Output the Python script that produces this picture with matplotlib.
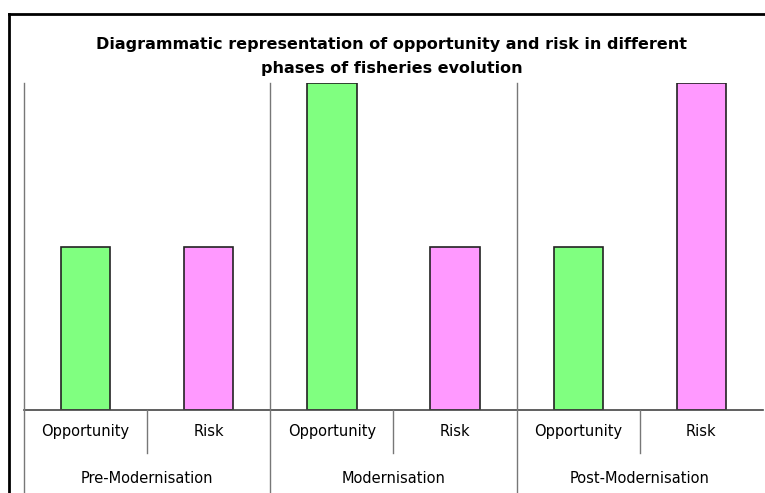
import matplotlib.pyplot as plt
from matplotlib.lines import Line2D

phases = ['Pre-Modernisation', 'Modernisation', 'Post-Modernisation']
measures = ['Opportunity', 'Risk']
opportunity = [1, 2, 1]
risk = [1, 1, 2]

green = '#80ff80'
pink = '#ff99ff'

plt.rcParams['font.family'] = ['DejaVu Sans']

fig = plt.figure(figsize=(7.65, 4.93), dpi=100)
ax = fig.add_axes([24 / 765, 1 - 410 / 493, (763 - 24) / 765, 327 / 493])

# one slot per bar: phase i -> positions 2i (opportunity), 2i+1 (risk)
xs_opp = [2 * i for i in range(len(phases))]
xs_risk = [2 * i + 1 for i in range(len(phases))]
ax.bar(xs_opp, opportunity, width=0.4, color=green, edgecolor='#222222', linewidth=1.2)
ax.bar(xs_risk, risk, width=0.4, color=pink, edgecolor='#222222', linewidth=1.2)

ax.set_xlim(-0.5, 2 * len(phases) - 0.5)
ax.set_ylim(0, 2)
for s in ax.spines.values():
    s.set_visible(False)
ax.set_xticks([])
ax.set_yticks([])

tr = ax.get_xaxis_transform()
low = -0.3
ax.plot([-0.5, 2 * len(phases) - 0.5], [0, 0], transform=tr, color='#444444', lw=1.2, clip_on=False)
ax.plot([-0.5, -0.5], [1, low], transform=tr, color='#777777', lw=1.0, clip_on=False)
for i in range(1, len(phases)):
    ax.plot([2 * i - 0.5] * 2, [1, low], transform=tr, color='#777777', lw=1.0, clip_on=False)
for i in range(len(phases)):
    ax.plot([2 * i + 0.5] * 2, [0, -0.13], transform=tr, color='#777777', lw=1.0, clip_on=False)
    for j, m in enumerate(measures):
        ax.text(2 * i + j, -0.067, m, transform=tr, ha='center', va='center', fontsize=10.5)
    ax.text(2 * i + 0.5, -0.208, phases[i], transform=tr, ha='center', va='center', fontsize=10.5)

fig.text(392 / 765, 1 - 44 / 493, 'Diagrammatic representation of opportunity and risk in different',
         ha='center', va='center', fontsize=11.5, fontweight='bold')
fig.text(392 / 765, 1 - 69 / 493, 'phases of fisheries evolution',
         ha='center', va='center', fontsize=11.5, fontweight='bold')

# outer frame (top and left edges)
fig.add_artist(Line2D([9 / 765, 1], [1 - 14 / 493] * 2, color='black', lw=2))
fig.add_artist(Line2D([9 / 765] * 2, [1 - 14 / 493, 0], color='black', lw=2))

fig.savefig('out.png', dpi=100)
